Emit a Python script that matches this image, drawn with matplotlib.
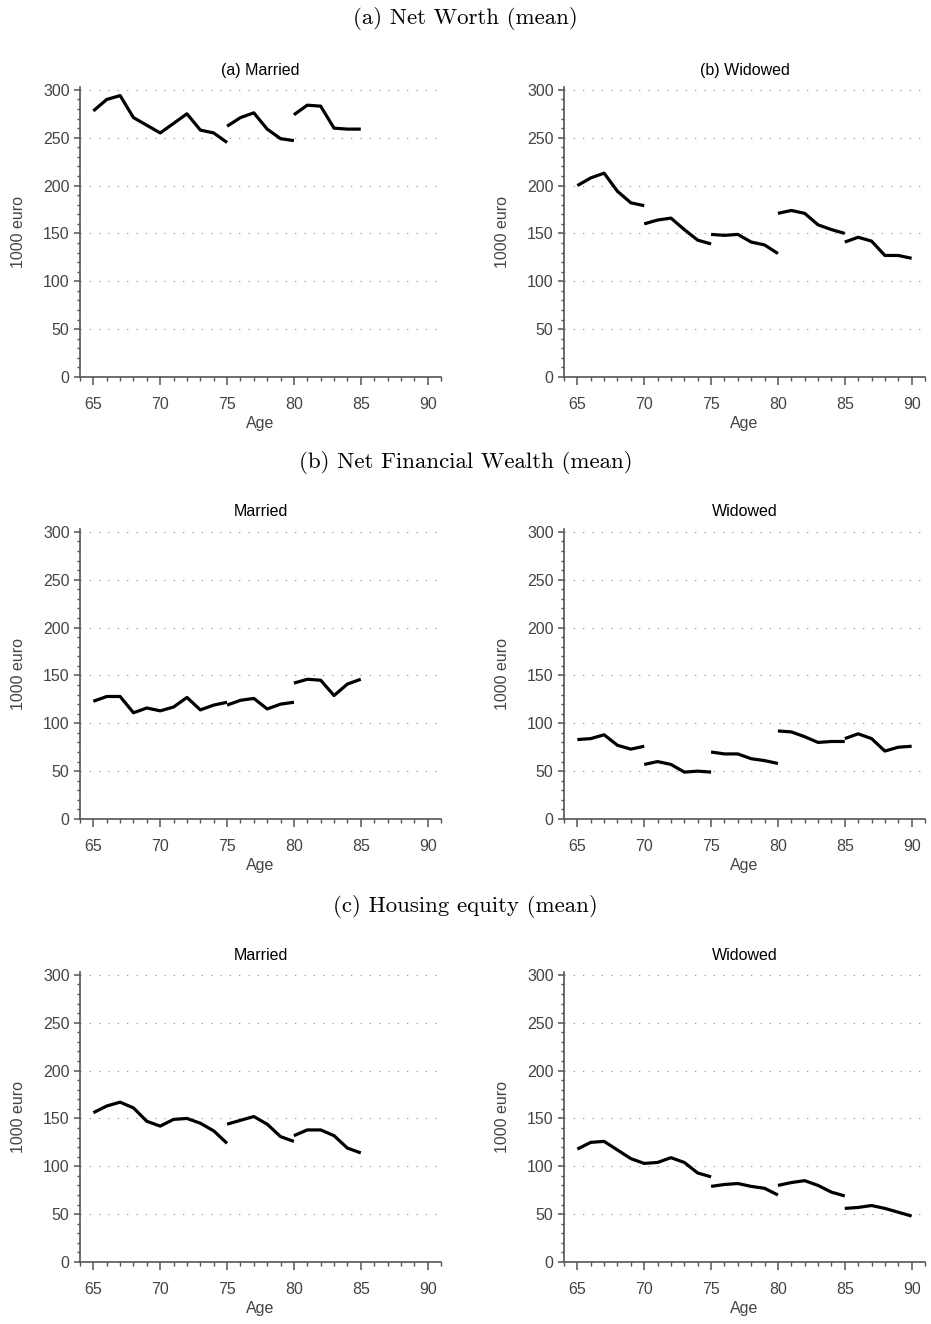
import matplotlib
matplotlib.use('Agg')
import matplotlib.pyplot as plt
from matplotlib.ticker import MultipleLocator

plt.rcParams['font.family'] = ['Liberation Sans', 'DejaVu Sans']

# each panel: list of (ages, values) segments, 1000 euro
nw_married = [
    ([65, 66, 67, 68, 69, 70, 71, 72, 73, 74, 75],
     [278, 290, 294, 271, 263, 255, 265, 275, 258, 255, 245]),
    ([75, 76, 77, 78, 79, 80], [262, 271, 276, 259, 249, 247]),
    ([80, 81, 82, 83, 84, 85], [274, 284, 283, 260, 259, 259]),
]
nw_widowed = [
    ([65, 66, 67, 68, 69, 70], [200, 208, 213, 194, 182, 179]),
    ([70, 71, 72, 73, 74, 75], [160, 164, 166, 154, 143, 139]),
    ([75, 76, 77, 78, 79, 80], [149, 148, 149, 141, 138, 129]),
    ([80, 81, 82, 83, 84, 85], [171, 174, 171, 159, 154, 150]),
    ([85, 86, 87, 88, 89, 90], [141, 146, 142, 127, 127, 124]),
]
nfw_married = [
    ([65, 66, 67, 68, 69, 70, 71, 72, 73, 74, 75],
     [123, 128, 128, 111, 116, 113, 117, 127, 114, 119, 122]),
    ([75, 76, 77, 78, 79, 80], [119, 124, 126, 115, 120, 122]),
    ([80, 81, 82, 83, 84, 85], [142, 146, 145, 129, 141, 146]),
]
nfw_widowed = [
    ([65, 66, 67, 68, 69, 70], [83, 84, 88, 77, 73, 76]),
    ([70, 71, 72, 73, 74, 75], [57, 60, 57, 49, 50, 49]),
    ([75, 76, 77, 78, 79, 80], [70, 68, 68, 63, 61, 58]),
    ([80, 81, 82, 83, 84, 85], [92, 91, 86, 80, 81, 81]),
    ([85, 86, 87, 88, 89, 90], [84, 89, 84, 71, 75, 76]),
]
he_married = [
    ([65, 66, 67, 68, 69, 70, 71, 72, 73, 74, 75],
     [156, 163, 167, 161, 147, 142, 149, 150, 145, 137, 124]),
    ([75, 76, 77, 78, 79, 80], [144, 148, 152, 144, 131, 126]),
    ([80, 81, 82, 83, 84, 85], [132, 138, 138, 132, 119, 114]),
]
he_widowed = [
    ([65, 66, 67, 68, 69, 70, 71, 72, 73, 74, 75],
     [118, 125, 126, 117, 108, 103, 104, 109, 104, 93, 89]),
    ([75, 76, 77, 78, 79, 80], [79, 81, 82, 79, 77, 70]),
    ([80, 81, 82, 83, 84, 85], [80, 83, 85, 80, 73, 69]),
    ([85, 86, 87, 88, 89, 90], [56, 57, 59, 56, 52, 48]),
]

row_titles = ['(a) Net Worth (mean)', '(b) Net Financial Wealth (mean)',
              '(c) Housing equity (mean)']
panel_titles = [['(a) Married', '(b) Widowed'], ['Married', 'Widowed'],
                ['Married', 'Widowed']]
panels = [[nw_married, nw_widowed], [nfw_married, nfw_widowed],
          [he_married, he_widowed]]

W, H = 931, 1324
fig = plt.figure(figsize=(W / 100, H / 100), dpi=100)

gray = '#555555'
lefts = [80, 564]
bottoms = [377, 819, 1262]
title_y = [18, 463, 906]
ax_w = 361
ax_h = 290

for r in range(3):
    fig.text(0.5, 1 - title_y[r] / H, row_titles[r], ha='center', va='center',
             fontsize=16.5, family='cmr10')
    for c in range(2):
        ax = fig.add_axes([lefts[c] / W, 1 - bottoms[r] / H, ax_w / W, ax_h / H])
        for ages, vals in panels[r][c]:
            ax.plot(ages, vals, color='black', lw=2.3, solid_capstyle='butt')
        ax.set_xlim(64, 91)
        ax.set_ylim(0, 303)
        ax.xaxis.set_minor_locator(MultipleLocator(1))
        ax.yaxis.set_major_locator(MultipleLocator(50))
        ax.yaxis.set_minor_locator(MultipleLocator(10))
        ax.set_xticks(range(65, 91, 5))
        ax.grid(axis='y', which='major', linestyle=(0, (1, 7.4)), color='#888888', lw=0.8)
        for s in ['top', 'right']:
            ax.spines[s].set_visible(False)
        for s in ['left', 'bottom']:
            ax.spines[s].set_color(gray)
            ax.spines[s].set_linewidth(1.2)
        ax.tick_params(which='major', width=1.1, color=gray,
                       labelcolor='#444444', labelsize=11.5)
        ax.tick_params(axis='y', which='major', length=4.5, pad=3)
        ax.tick_params(axis='x', which='major', length=5.5, pad=9)
        ax.tick_params(axis='y', which='minor', length=2.5, width=1.0, color=gray)
        ax.tick_params(axis='x', which='minor', length=3, width=1.0, color=gray)
        ax.set_title(panel_titles[r][c], fontsize=11.5, pad=9)
        ax.set_xlabel('Age', fontsize=11.5, color='#444444', labelpad=3)
        ax.set_ylabel('1000 euro', fontsize=11.5, color='#444444', labelpad=12)

fig.savefig('out.png', dpi=100)
